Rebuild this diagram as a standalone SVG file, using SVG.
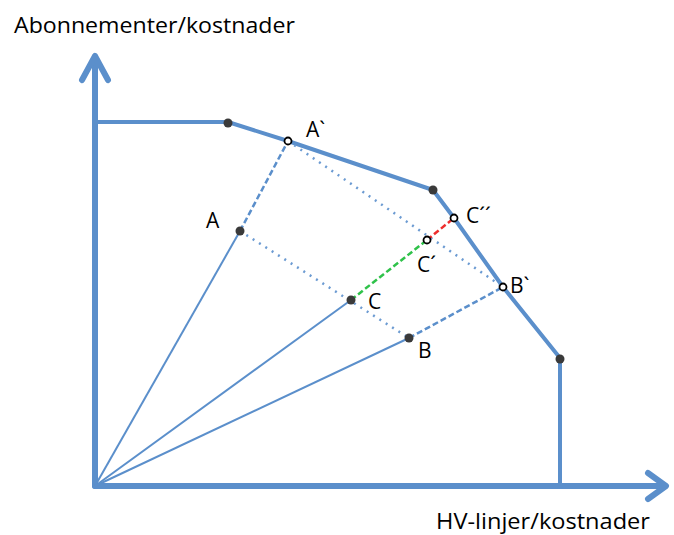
<svg xmlns="http://www.w3.org/2000/svg" width="674" height="535" viewBox="0 0 674 535">
<style>
.axis{fill:none;stroke:#5b8fcb;stroke-width:6;stroke-linecap:round;stroke-linejoin:round}
.front{fill:none;stroke:#5b8fcb;stroke-width:4;stroke-linejoin:round}
.ray{stroke:#5b8fcb;stroke-width:2;fill:none}
.dash{stroke:#5b8fcb;stroke-width:2.5;stroke-dasharray:6 3;fill:none}
.dot{stroke:#6c9bd2;stroke-width:2.5;stroke-dasharray:2 5.5;fill:none}
.pt{fill:#3a3a3a}
.op{fill:#fff;stroke:#000;stroke-width:1.8}
text{font-family:"Open Sans","Liberation Sans",sans-serif;fill:#000}
.lab{font-size:21px}
</style>
<g id="axes">
<polyline class="axis" points="95,486 95,57"/>
<polyline class="axis" points="82,80 95,56 108,80"/>
<polyline class="axis" points="95,486 665,486"/>
<polyline class="axis" points="648,473 666,486 648,499"/>
</g>
<g id="connectors">
<polyline class="front" points="95,122 228,122 288,141 433,190 454,218 503,287 560,358 560,486"/>
<line class="ray" x1="95" y1="486" x2="240" y2="231"/>
<line class="ray" x1="95" y1="486" x2="351" y2="300"/>
<line class="ray" x1="95" y1="486" x2="409" y2="338"/>
<line class="dash" x1="240" y1="231" x2="288" y2="141"/>
<line class="dash" x1="409" y1="338" x2="503" y2="287"/>
<line class="dot" x1="240" y1="231" x2="409" y2="338"/>
<line class="dot" x1="288" y1="141" x2="503" y2="287"/>
<line x1="351" y1="300" x2="427" y2="240" stroke="#2fc24a" stroke-width="2.5" stroke-dasharray="6 3"/>
<line x1="427" y1="240" x2="454" y2="218" stroke="#ee2e2e" stroke-width="2.5" stroke-dasharray="6 3"/>
</g>
<g id="points">
<circle class="pt" cx="228" cy="123" r="4.5"/>
<circle class="pt" cx="433" cy="190" r="4.5"/>
<circle class="pt" cx="560" cy="359" r="4.5"/>
<circle class="pt" cx="240" cy="231" r="4.5"/>
<circle class="pt" cx="351" cy="300" r="4.5"/>
<circle class="pt" cx="409" cy="338" r="4.5"/>
<circle class="op" cx="288" cy="141" r="3.5"/>
<circle class="op" cx="454" cy="218" r="3.5"/>
<circle class="op" cx="427" cy="240" r="3.5"/>
<circle class="op" cx="503" cy="287" r="3.5"/>
</g>
<g id="labels">
<text x="14" y="33" font-size="22" textLength="281" lengthAdjust="spacingAndGlyphs">Abonnementer/kostnader</text>
<text x="436" y="529" font-size="21" textLength="214" lengthAdjust="spacingAndGlyphs">HV-linjer/kostnader</text>
<text class="lab" x="206" y="228">A</text>
<text class="lab" x="306" y="137">A`</text>
<text class="lab" x="466" y="223">C´´</text>
<text class="lab" x="417" y="272">C´</text>
<text class="lab" x="368" y="309">C</text>
<text class="lab" x="510" y="293">B`</text>
<text class="lab" x="418" y="358">B</text>
</g>
</svg>
